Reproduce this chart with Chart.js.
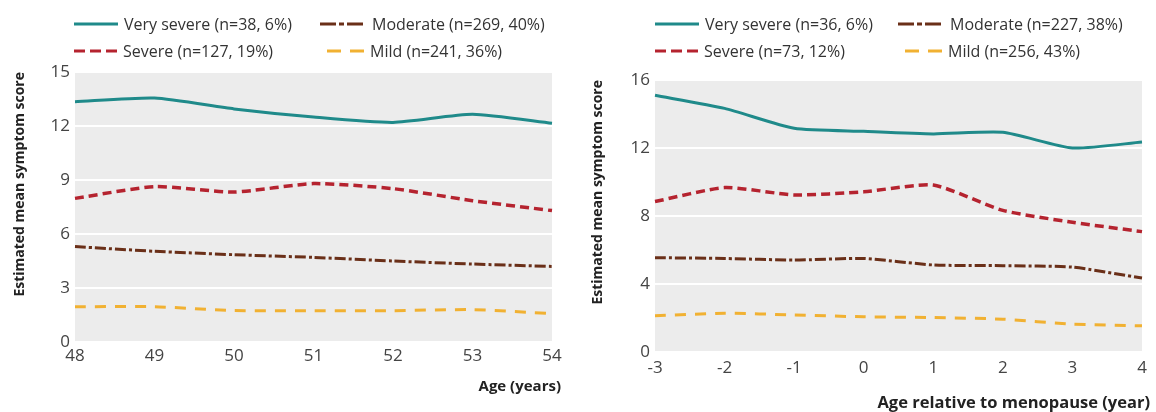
<!DOCTYPE html>
<html>
<head>
<meta charset="utf-8">
<script src="https://cdn.jsdelivr.net/npm/chart.js@4.4.1/dist/chart.umd.min.js"></script>
<style>
  html, body { margin: 0; padding: 0; background: #fff; }
  body { width: 1156px; height: 412px; position: relative; overflow: hidden; font-family: "Open Sans", sans-serif; }
  .panel { position: absolute; top: 0; width: 578px; height: 412px; }
  .panel canvas { position: absolute; left: 0; top: 0; }
  .legend { position: absolute; left: 0; top: 0; width: 578px; height: 66px; font-size: 16px; color: #333; }
  .item { position: absolute; display: flex; align-items: center; white-space: nowrap; height: 22px; }
  .item svg { margin-right: 6px; flex: none; }
</style>
</head>
<body>
<div class="panel" id="panelAge" style="left:0">
  <canvas id="chartAge" width="578" height="412"></canvas>
  <div class="legend" id="legendAge"></div>
</div>
<div class="panel" id="panelMeno" style="left:578px">
  <canvas id="chartMeno" width="578" height="412"></canvas>
  <div class="legend" id="legendMeno"></div>
</div>
<script>
// Symptom score by chronological age (years 48-54)
const ageYears = ['48', '49', '50', '51', '52', '53', '54'];
const ageVerySevere = [13.35, 13.55, 12.95, 12.5, 12.2, 12.65, 12.15];
const ageSevere = [7.98, 8.63, 8.33, 8.8, 8.52, 7.85, 7.3];
const ageModerate = [5.3, 5.04, 4.85, 4.7, 4.5, 4.33, 4.2];
const ageMild = [1.96, 1.96, 1.75, 1.74, 1.74, 1.8, 1.58];
const ageLabels = ['Very severe (n=38, 6%)', 'Severe (n=127, 19%)', 'Moderate (n=269, 40%)', 'Mild (n=241, 36%)'];
const ageAxisMax = 15;
const ageAxisStep = 3;

// Symptom score by years relative to menopause (-3 to 4)
const menoYears = ['-3', '-2', '-1', '0', '1', '2', '3', '4'];
const menoVerySevere = [15.1, 14.33, 13.16, 12.98, 12.83, 12.92, 12.0, 12.35];
const menoSevere = [8.85, 9.67, 9.24, 9.42, 9.82, 8.33, 7.63, 7.08];
const menoModerate = [5.55, 5.5, 5.41, 5.5, 5.12, 5.08, 4.99, 4.35];
const menoMild = [2.13, 2.28, 2.18, 2.07, 2.03, 1.93, 1.64, 1.54];
const menoLabels = ['Very severe (n=36, 6%)', 'Severe (n=73, 12%)', 'Moderate (n=227, 38%)', 'Mild (n=256, 43%)'];
const menoAxisMax = 16;
const menoAxisStep = 4;

const yTitle = 'Estimated mean symptom score';

// Line styles per symptom group: very severe, severe, moderate, mild
const groupStyles = [
  { color: '#1f8a8a', dash: [], width: 3, legendDash: '', legendWidth: 44, legendLeft: 0 },
  { color: '#b5232f', dash: [9, 5], width: 3.5, legendDash: '11,5', legendWidth: 43, legendLeft: 0 },
  { color: '#6a2f18', dash: [11, 3, 3, 3], width: 3, legendDash: '16,3,5,3,16', legendWidth: 46, legendLeft: 0 },
  { color: '#f1b132', dash: [11, 9], width: 3, legendDash: '14,9', legendWidth: 37, legendLeft: 7 }
];

Chart.defaults.font.family = '"Open Sans", sans-serif';

const plotBackground = {
  id: 'plotBackground',
  beforeDraw(chart) {
    const { ctx, chartArea: a } = chart;
    ctx.save();
    ctx.fillStyle = '#ececec';
    ctx.fillRect(a.left, a.top, a.right - a.left, a.bottom - a.top);
    ctx.restore();
  }
};

const xCaption = {
  id: 'xCaption',
  afterDraw(chart, args, opts) {
    const { ctx, chartArea: a } = chart;
    ctx.save();
    ctx.font = 'bold ' + opts.size + 'px "Open Sans", sans-serif';
    ctx.fillStyle = '#222';
    ctx.textAlign = 'right';
    ctx.textBaseline = 'middle';
    ctx.fillText(opts.text, a.right + opts.dx, opts.y);
    ctx.restore();
  }
};

function buildLegend(el, labels, cols) {
  const order = [0, 2, 1, 3]; // two columns: very severe / moderate on top, severe / mild below
  const rows = [24, 51];
  order.forEach((gi, k) => {
    const s = groupStyles[gi];
    const item = document.createElement('div');
    item.className = 'item';
    item.style.left = (cols[k % 2] + s.legendLeft) + 'px';
    item.style.top = (rows[Math.floor(k / 2)] - 11) + 'px';
    const svgNS = 'http://www.w3.org/2000/svg';
    const svg = document.createElementNS(svgNS, 'svg');
    svg.setAttribute('width', s.legendWidth);
    svg.setAttribute('height', 10);
    const line = document.createElementNS(svgNS, 'line');
    line.setAttribute('x1', 0); line.setAttribute('y1', 5);
    line.setAttribute('x2', s.legendWidth); line.setAttribute('y2', 5);
    line.setAttribute('stroke', s.color);
    line.setAttribute('stroke-width', 3);
    if (s.legendDash) line.setAttribute('stroke-dasharray', s.legendDash);
    svg.appendChild(line);
    const span = document.createElement('span');
    span.textContent = labels[gi];
    item.appendChild(svg);
    item.appendChild(span);
    el.appendChild(item);
  });
}

function makeChart(canvasId, labels, series, names, axisMax, axisStep, area, caption) {
  const datasets = series.map((values, i) => ({
    label: names[i],
    data: values,
    borderColor: groupStyles[i].color,
    borderWidth: groupStyles[i].width,
    borderDash: groupStyles[i].dash,
    borderCapStyle: 'butt',
    pointRadius: 0,
    fill: false,
    tension: 0.2
  }));
  return new Chart(document.getElementById(canvasId), {
    type: 'line',
    data: { labels, datasets },
    plugins: [plotBackground, xCaption],
    options: {
      responsive: false,
      animation: false,
      devicePixelRatio: 1,
      layout: { padding: { top: area.top, right: 578 - area.right, bottom: 0, left: 0 } },
      plugins: {
        legend: { display: false },
        tooltip: { enabled: false },
        xCaption: caption
      },
      scales: {
        x: {
          offset: false,
          grid: { display: false, drawTicks: false },
          border: { display: false },
          ticks: { color: '#444', font: { size: 17 }, padding: area.xPad, maxRotation: 0 },
          afterFit(scale) { scale.height = 412 - area.bottom; }
        },
        y: {
          min: 0,
          max: axisMax,
          grid: { color: '#ffffff', lineWidth: 2, drawTicks: false },
          border: { display: false },
          ticks: { stepSize: axisStep, color: '#444', font: { size: 17 }, padding: 5 },
          title: {
            display: true, text: yTitle, align: 'end', color: '#222',
            font: { size: 14, weight: 'bold' }, padding: { top: 12, bottom: 0 }
          },
          afterFit(scale) { scale.width = area.left; }
        }
      }
    }
  });
}

makeChart('chartAge', ageYears, [ageVerySevere, ageSevere, ageModerate, ageMild], ageLabels,
  ageAxisMax, ageAxisStep,
  { left: 75, right: 552, top: 72, bottom: 342, xPad: 4 },
  { text: 'Age (years)', dx: 9, y: 387, size: 15 });

makeChart('chartMeno', menoYears, [menoVerySevere, menoSevere, menoModerate, menoMild], menoLabels,
  menoAxisMax, menoAxisStep,
  { left: 77, right: 564, top: 80, bottom: 352, xPad: 6 },
  { text: 'Age relative to menopause (year)', dx: 8, y: 403, size: 16.5 });

buildLegend(document.getElementById('legendAge'), ageLabels, [74, 320]);
buildLegend(document.getElementById('legendMeno'), menoLabels, [77, 320]);
</script>
</body>
</html>
